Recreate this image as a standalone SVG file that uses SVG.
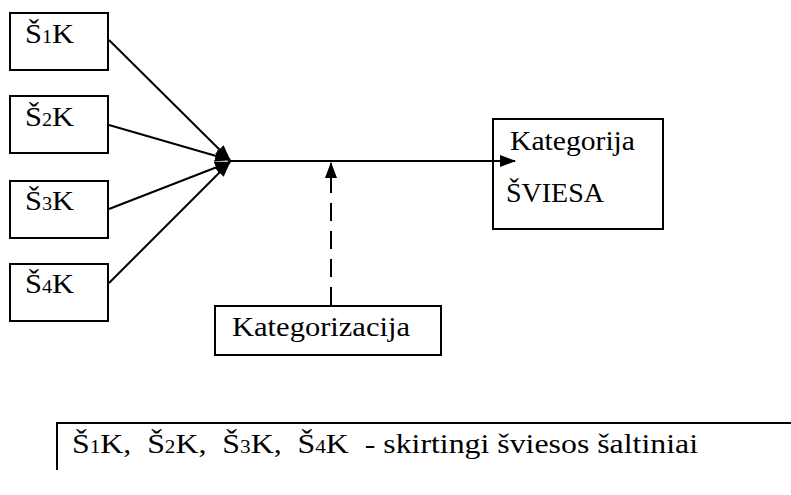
<svg xmlns="http://www.w3.org/2000/svg" width="791" height="495" viewBox="0 0 791 495">
<style>
.box{fill:#fff;stroke:#000;stroke-width:2}
.t{font-family:'Liberation Serif','Times New Roman',serif;font-size:27px;fill:#000;white-space:pre}
.s{font-size:18px}
.ln{stroke:#000;stroke-width:2;fill:none}
</style>
<defs>
<marker id="ah2" markerWidth="16" markerHeight="12" refX="15" refY="6" orient="auto" markerUnits="userSpaceOnUse">
<path d="M0,0 L16,6 L0,12 Z" fill="#000"/>
</marker>
</defs>
<g id="s1k"><rect class="box" x="10" y="13" width="98" height="57"/><text class="t" x="25" y="43" textLength="49" lengthAdjust="spacingAndGlyphs">Š<tspan class="s">1</tspan>K</text></g>
<g id="s2k"><rect class="box" x="10" y="96" width="98" height="57"/><text class="t" x="25" y="126" textLength="49" lengthAdjust="spacingAndGlyphs">Š<tspan class="s">2</tspan>K</text></g>
<g id="s3k"><rect class="box" x="10" y="181" width="98" height="57"/><text class="t" x="25" y="210" textLength="49" lengthAdjust="spacingAndGlyphs">Š<tspan class="s">3</tspan>K</text></g>
<g id="s4k"><rect class="box" x="10" y="264" width="98" height="57"/><text class="t" x="25" y="293" textLength="49" lengthAdjust="spacingAndGlyphs">Š<tspan class="s">4</tspan>K</text></g>
<g id="sviesa"><rect class="box" x="493" y="119" width="170" height="110"/><text class="t" x="510" y="150" textLength="125" lengthAdjust="spacingAndGlyphs">Kategorija</text><text class="t" x="506" y="202" textLength="98" lengthAdjust="spacingAndGlyphs">ŠVIESA</text></g>
<g id="kategorizacija"><rect class="box" x="215" y="306" width="226" height="49"/><text class="t" x="232" y="336" textLength="178" lengthAdjust="spacingAndGlyphs">Kategorizacija</text></g>
<g id="legend"><path class="ln" d="M57,470 L57,423 L791,423"/><text class="t" x="72" y="453" xml:space="preserve" textLength="626" lengthAdjust="spacingAndGlyphs">Š<tspan class="s">1</tspan>K,  Š<tspan class="s">2</tspan>K,  Š<tspan class="s">3</tspan>K,  Š<tspan class="s">4</tspan>K  - skirtingi šviesos šaltiniai</text></g>
<g id="connectors">
<line class="ln" x1="109" y1="40" x2="230" y2="160" marker-end="url(#ah2)"/>
<line class="ln" x1="109" y1="125" x2="230" y2="160" marker-end="url(#ah2)"/>
<line class="ln" x1="109" y1="209" x2="230" y2="162" marker-end="url(#ah2)"/>
<line class="ln" x1="109" y1="283" x2="230" y2="162" marker-end="url(#ah2)"/>
<line class="ln" x1="228" y1="161" x2="515" y2="161" marker-end="url(#ah2)"/>
<line class="ln" x1="331" y1="305" x2="331" y2="163" stroke-dasharray="18,10" marker-end="url(#ah2)"/>
</g>
</svg>
